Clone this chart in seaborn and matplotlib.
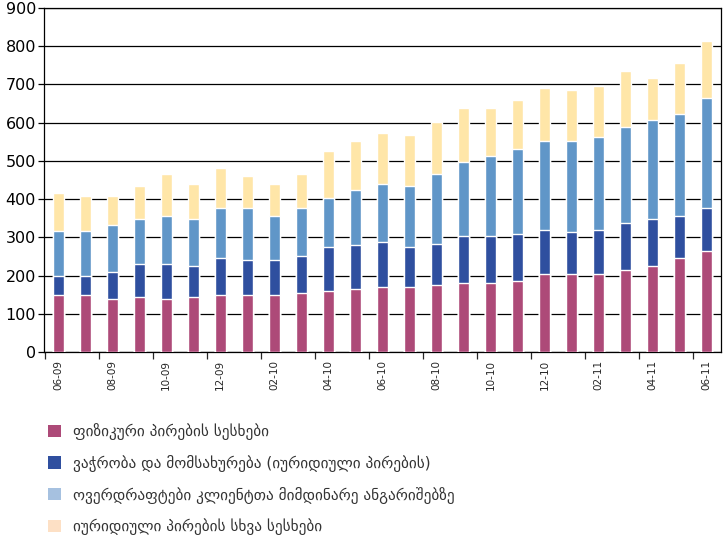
import numpy as np
import pandas as pd
import seaborn as sns
import matplotlib.pyplot as plt
from matplotlib.patches import Patch

months = ["06-09", "07-09", "08-09", "09-09", "10-09", "11-09", "12-09", "01-10", "02-10",
          "03-10", "04-10", "05-10", "06-10", "07-10", "08-10", "09-10", "10-10", "11-10",
          "12-10", "01-11", "02-11", "03-11", "04-11", "05-11", "06-11"]

individuals = [150, 150, 140, 145, 140, 145, 150, 150, 150, 155, 160, 165, 170, 170, 175,
               180, 180, 185, 205, 205, 205, 215, 225, 245, 265]
trade_services = [50, 50, 70, 85, 90, 80, 95, 90, 90, 95, 115, 115, 117, 106, 107,
                  123, 123, 123, 113, 108, 113, 123, 123, 112, 113]
overdrafts = [117, 117, 123, 118, 127, 123, 133, 138, 117, 128, 129, 145, 153, 159, 184,
              193, 209, 224, 234, 239, 244, 250, 260, 267, 286]
other_legal = [98, 92, 76, 87, 109, 92, 103, 83, 83, 88, 123, 128, 133, 133, 137,
               143, 127, 128, 138, 134, 133, 148, 108, 133, 149]

labels = ["ფიზიკური პირების სესხები",
          "ვაჭრობა და მომსახურება (იურიდიული პირების)",
          "ოვერდრაფტები კლიენტთა მიმდინარე ანგარიშებზე",
          "იურიდიული პირების სხვა სესხები"]
bar_colors = ["#ad4a78", "#2f4f9f", "#6096c8", "#ffe6a8"]
legend_colors = ["#ad4a78", "#2f4f9f", "#a6c1e0", "#fde0c5"]

series = [individuals, trade_services, overdrafts, other_legal]
cum = np.cumsum(np.array(series), axis=0)

sns.set_style("white")
plt.rcParams['font.family'] = ['DejaVu Sans']

fig = plt.figure(figsize=(7.25, 5.37), dpi=100)
ax = fig.add_axes([0.061, 0.3445, 0.933, 0.6405])

# stacked bars: draw the tallest cumulative first, then overlay lower ones
for i in range(3, -1, -1):
    df = pd.DataFrame({"month": months, "value": cum[i]})
    sns.barplot(data=df, x="month", y="value", color=bar_colors[i], width=0.41,
                errorbar=None, saturation=1, ax=ax, zorder=3)

ax.set_ylim(0, 900)
ax.set_xlim(-0.52, 24.53)
ax.set_yticks(range(0, 901, 100))
ax.yaxis.grid(True, color="black", linewidth=0.9)
ax.set_axisbelow(True)
ax.tick_params(axis="y", direction="out", length=4, width=0.9, labelsize=11.5, pad=2,
               left=True, colors="black")

# tick marks between every second category, labels on the bars
ax.set_xticks(np.arange(-0.5, 24.6, 2))
ax.set_xticklabels([])
ax.set_xticks(np.arange(0, 25, 2), minor=True)
ax.set_xticklabels(months[::2], minor=True, rotation=90, fontsize=7.5)
ax.tick_params(axis="x", which="major", direction="out", length=5, width=0.9,
               bottom=True)
ax.tick_params(axis="x", which="minor", length=0, pad=6)
ax.set_xlabel("")
ax.set_ylabel("")
for s in ax.spines.values():
    s.set_visible(True)
    s.set_color("black")
    s.set_linewidth(0.9)

handles = [Patch(facecolor=c, edgecolor="none") for c in legend_colors]
fig.legend(handles, labels, loc="upper left", bbox_to_anchor=(0.047, 0.238),
           frameon=False, fontsize=11, handlelength=0.85, handleheight=0.85,
           handletextpad=0.8, labelspacing=0.97, labelcolor="#333333")

fig.savefig("out.png", dpi=100)
